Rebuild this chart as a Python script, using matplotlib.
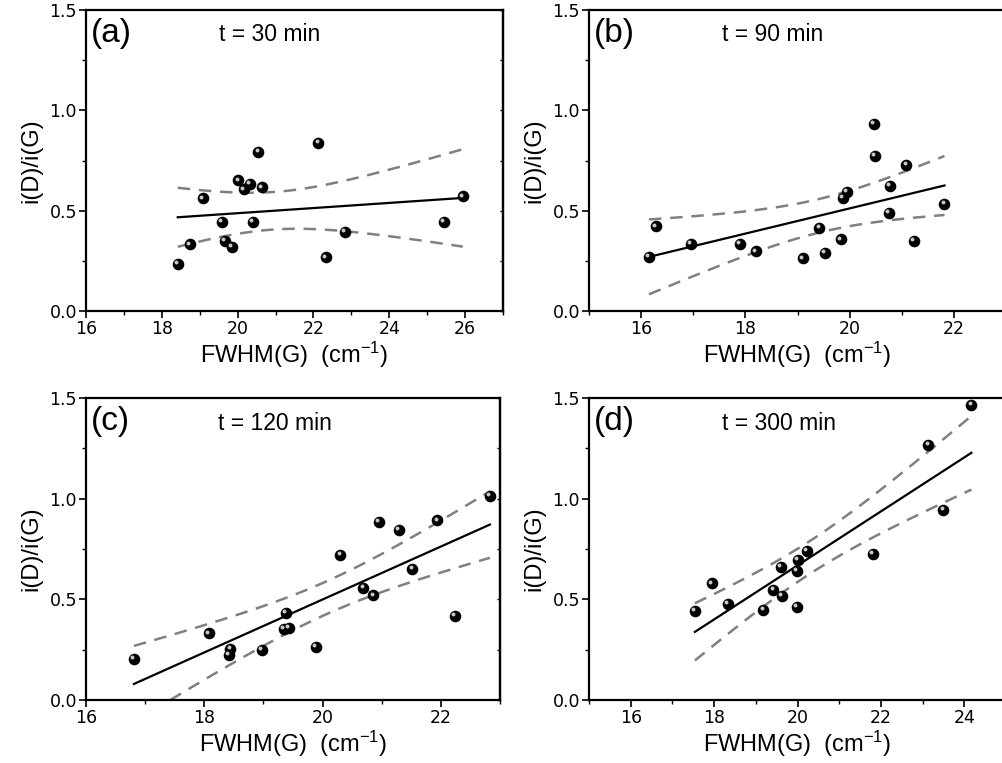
"""Four-panel i(D)/i(G) vs FWHM(G) scatter with linear fit + 95% confidence bands."""
import numpy as np
import matplotlib
matplotlib.use("Agg")
import matplotlib.pyplot as plt
from matplotlib.transforms import offset_copy
from matplotlib.ticker import MultipleLocator

# ---- data ----
labels = ["(a)", "(b)", "(c)", "(d)"]
times = ["t = 30 min", "t = 90 min", "t = 120 min", "t = 300 min"]

fwhm_a = [18.42, 18.75, 19.09, 19.58, 19.67, 19.84, 20.02, 20.16, 20.33, 20.55,
          20.64, 20.41, 22.13, 22.33, 22.83, 25.44, 25.94]
ratio_a = [0.234, 0.332, 0.561, 0.442, 0.350, 0.320, 0.651, 0.606, 0.633, 0.791,
           0.616, 0.443, 0.839, 0.267, 0.394, 0.442, 0.571]

fwhm_b = [16.15, 16.29, 16.96, 17.90, 18.20, 19.11, 19.42, 19.53, 19.84, 19.87,
          19.95, 20.46, 20.48, 20.78, 20.75, 21.09, 21.24, 21.82]
ratio_b = [0.269, 0.422, 0.334, 0.334, 0.297, 0.262, 0.414, 0.289, 0.357, 0.565,
           0.595, 0.933, 0.771, 0.623, 0.488, 0.729, 0.350, 0.533]

fwhm_c = [16.81, 18.08, 18.44, 18.41, 18.97, 19.38, 19.34, 19.43, 19.89, 20.30,
          20.69, 20.86, 20.95, 21.29, 21.52, 21.94, 22.24, 22.83]
ratio_c = [0.204, 0.331, 0.252, 0.225, 0.247, 0.432, 0.353, 0.359, 0.263, 0.722,
           0.556, 0.520, 0.884, 0.846, 0.650, 0.892, 0.417, 1.013]

fwhm_d = [17.54, 17.94, 18.34, 19.18, 19.42, 19.62, 19.60, 19.98, 19.98, 20.00,
          20.22, 21.80, 23.14, 23.50, 24.17]
ratio_d = [0.442, 0.579, 0.479, 0.449, 0.545, 0.518, 0.662, 0.464, 0.642, 0.695,
           0.740, 0.727, 1.268, 0.943, 1.467]

xlims = [(16, 27), (15, 23), (16, 23), (15, 25)]
xticks = [[16, 18, 20, 22, 24, 26], [16, 18, 20, 22], [16, 18, 20, 22], [16, 18, 20, 22, 24]]

# two-sided 95% Student t by degrees of freedom
T95 = {13: 2.160, 14: 2.145, 15: 2.131, 16: 2.120, 17: 2.110, 18: 2.101}

LABEL_FONT = ["Liberation Sans", "DejaVu Sans"]
plt.rcParams["font.family"] = ["DejaVu Sans"]
plt.rcParams["mathtext.fontset"] = "custom"
plt.rcParams["mathtext.rm"] = "Liberation Sans"
plt.rcParams["mathtext.it"] = "Liberation Sans:italic"


def fit_band(x, y):
    x = np.asarray(x); y = np.asarray(y)
    n = len(x)
    b, a = np.polyfit(x, y, 1)
    res = y - (a + b * x)
    s = np.sqrt((res ** 2).sum() / (n - 2))
    xx = np.linspace(x.min(), x.max(), 200)
    sxx = ((x - x.mean()) ** 2).sum()
    half = T95[n - 2] * s * np.sqrt(1 / n + (xx - x.mean()) ** 2 / sxx)
    yy = a + b * xx
    return xx, yy, yy - half, yy + half


def panel(fig, ax, x, y, lab, ttl, xlim, ticks, right_spine):
    xx, yy, lo, hi = fit_band(x, y)
    ax.plot(xx, yy, color="black", lw=1.6, zorder=2)
    for band in (lo, hi):
        ax.plot(xx, band, color="#808080", lw=1.8, dashes=(5, 3.5), zorder=2)
    ax.scatter(x, y, s=70, color="black", zorder=3, linewidths=0)
    hl = offset_copy(ax.transData, fig=fig, x=-1.3, y=1.3, units="points")
    ax.scatter(x, y, s=8, color="#c8c8c8", zorder=4, linewidths=0, transform=hl)

    ax.set_xlim(*xlim); ax.set_ylim(0, 1.5)
    ax.set_xticks(ticks)
    ax.xaxis.set_minor_locator(MultipleLocator(1))
    ax.set_yticks([0.0, 0.5, 1.0, 1.5])
    ax.yaxis.set_minor_locator(MultipleLocator(0.25))
    ax.tick_params(which="major", direction="out", length=5, width=1.2, labelsize=12.5, pad=1.5)
    ax.tick_params(which="minor", direction="out", length=3, width=1.0)
    ax.tick_params(which="both", top=False, right=False)
    for sp in ax.spines.values():
        sp.set_linewidth(1.6)
    ax.spines["right"].set_visible(right_spine)
    if right_spine:
        sec = ax.secondary_yaxis("right")
        sec.set_yticks([0.0, 0.5, 1.0, 1.5]); sec.set_yticklabels([])
        sec.yaxis.set_minor_locator(MultipleLocator(0.25))
        sec.tick_params(which="both", direction="in", length=2.5, width=1.0)
        sec.spines["right"].set_linewidth(1.6)

    ax.text(0.012, 0.975, lab, transform=ax.transAxes, fontsize=24, va="top", ha="left",
            family=LABEL_FONT)
    ax.text(0.32, 0.917, ttl, transform=ax.transAxes, fontsize=16.5, va="center", ha="left",
            family=LABEL_FONT)
    ax.set_xlabel("FWHM(G)  (cm$^{\\mathrm{-1}}$)", fontsize=17, family=LABEL_FONT, labelpad=1)
    ax.set_ylabel("i(D)/i(G)", fontsize=17, family=LABEL_FONT, labelpad=5)


def main():
    fig = plt.figure(figsize=(10.02, 7.63), dpi=100)
    W, H = 1002.0, 763.0
    # axes boxes in pixels: left, top, width, height
    boxes = [(86, 10, 417, 301), (589, 10, 417, 301),
             (86, 398, 414, 302), (589, 398, 417, 302)]
    xs = [fwhm_a, fwhm_b, fwhm_c, fwhm_d]
    ys = [ratio_a, ratio_b, ratio_c, ratio_d]
    for i, (l, t, w, h) in enumerate(boxes):
        ax = fig.add_axes([l / W, 1 - (t + h) / H, w / W, h / H])
        panel(fig, ax, xs[i], ys[i], labels[i], times[i], xlims[i], xticks[i],
              right_spine=(i in (0, 2)))
    fig.savefig("out.png", dpi=100)


if __name__ == "__main__":
    main()
